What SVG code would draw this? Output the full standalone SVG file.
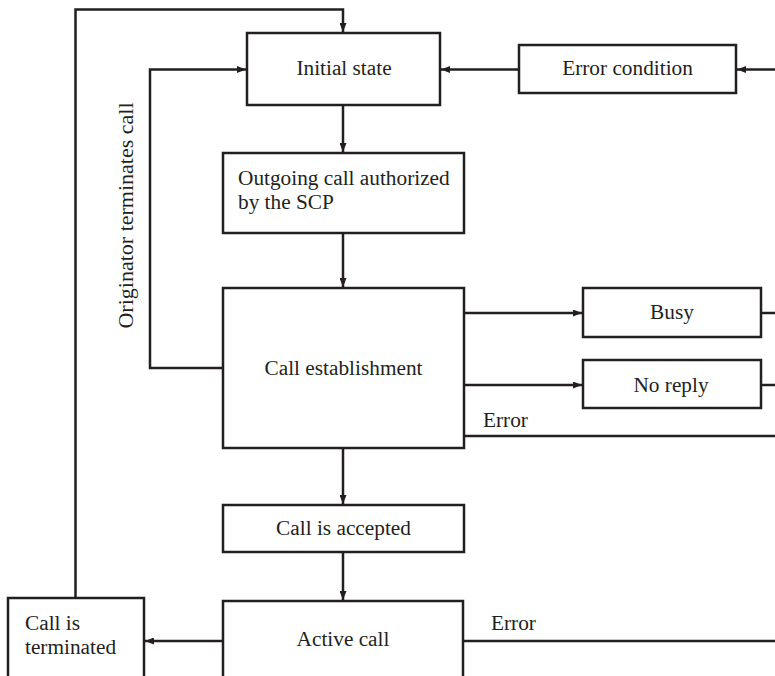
<svg xmlns="http://www.w3.org/2000/svg" width="775" height="676" viewBox="0 0 775 676">
<style>
.box{fill:#fff;stroke:#231f20;stroke-width:2.5}
.ln{fill:none;stroke:#231f20;stroke-width:2.5}
.t{font-family:"Liberation Serif","Times New Roman",serif;font-size:21.3px;fill:#231f20}
.c{text-anchor:middle}
</style>
<defs>
<marker id="ah" markerUnits="userSpaceOnUse" markerWidth="9" markerHeight="7" refX="9" refY="3.5" orient="auto">
<path d="M0,0 L9,3.5 L0,7 z" fill="#231f20"/>
</marker>
</defs>
<rect width="775" height="676" fill="#fff"/>
<g id="connectors">
<path class="ln" d="M75.5 598 V9.5 H343 V32" marker-end="url(#ah)"/>
<path class="ln" d="M223 368 H150 V69.5 H246" marker-end="url(#ah)"/>
<path class="ln" d="M519 69.5 H441" marker-end="url(#ah)"/>
<path class="ln" d="M775 69.5 H737" marker-end="url(#ah)"/>
<path class="ln" d="M343 105 V152" marker-end="url(#ah)"/>
<path class="ln" d="M343 233 V287" marker-end="url(#ah)"/>
<path class="ln" d="M464 313 H582" marker-end="url(#ah)"/>
<path class="ln" d="M464 385 H582" marker-end="url(#ah)"/>
<path class="ln" d="M761 313 H775"/>
<path class="ln" d="M761 385 H775"/>
<path class="ln" d="M464 436 H775"/>
<path class="ln" d="M343 448 V504" marker-end="url(#ah)"/>
<path class="ln" d="M343 552 V600" marker-end="url(#ah)"/>
<path class="ln" d="M223 641 H145" marker-end="url(#ah)"/>
<path class="ln" d="M463 641 H775"/>
<text class="t" transform="translate(133,215.5) rotate(-90)" text-anchor="middle" style="font-size:22px">Originator terminates call</text>
<text class="t" x="483" y="427">Error</text>
<text class="t" x="491" y="630">Error</text>
</g>
<g id="initial-state">
<rect class="box" x="247" y="33" width="193" height="72"/>
<text class="t c" x="344" y="75">Initial state</text>
</g>
<g id="error-condition">
<rect class="box" x="519" y="45" width="217" height="48"/>
<text class="t c" x="627.5" y="75">Error condition</text>
</g>
<g id="outgoing-call">
<rect class="box" x="223" y="153" width="241" height="80"/>
<text class="t" x="238" y="185">Outgoing call authorized</text>
<text class="t" x="238" y="209">by the SCP</text>
</g>
<g id="call-establishment">
<rect class="box" x="223" y="288" width="241" height="160"/>
<text class="t c" x="343.5" y="375">Call establishment</text>
</g>
<g id="busy">
<rect class="box" x="583" y="288" width="178" height="49"/>
<text class="t c" x="672" y="319">Busy</text>
</g>
<g id="no-reply">
<rect class="box" x="583" y="360" width="178" height="48"/>
<text class="t c" x="671" y="392">No reply</text>
</g>
<g id="call-accepted">
<rect class="box" x="223" y="505" width="241" height="47"/>
<text class="t c" x="343.5" y="535">Call is accepted</text>
</g>
<g id="active-call">
<rect class="box" x="223" y="601" width="240" height="100"/>
<text class="t c" x="343" y="646">Active call</text>
</g>
<g id="call-terminated">
<rect class="box" x="8" y="598" width="136" height="100"/>
<text class="t" x="25" y="630">Call is</text>
<text class="t" x="25" y="654">terminated</text>
</g>
</svg>
